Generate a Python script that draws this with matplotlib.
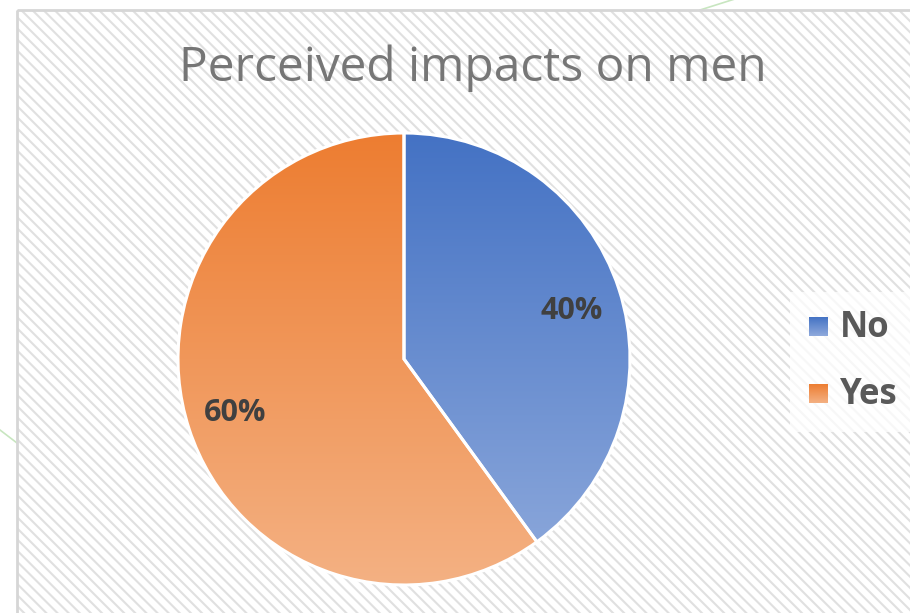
import numpy as np
import matplotlib
matplotlib.use("Agg")
import matplotlib.pyplot as plt
from matplotlib.patches import Rectangle
from matplotlib.colors import LinearSegmentedColormap

# data
labels = ["No", "Yes"]
values = [40, 60]
pct_labels = ["40%", "60%"]
top_colors = ["#4472C4", "#ED7D31"]
bottom_colors = ["#8FAADC", "#F4B183"]

plt.rcParams["font.family"] = ["Open Sans", "DejaVu Sans"]
plt.rcParams["hatch.linewidth"] = 1.5

W, H = 910, 613
fig = plt.figure(figsize=(W / 100, H / 100), dpi=100)
fig.patch.set_facecolor("white")

# background panel in pixel coords (y down)
bg = fig.add_axes([0, 0, 1, 1])
bg.set_xlim(0, W)
bg.set_ylim(H, 0)
bg.axis("off")
bg.set_zorder(0)
bg.add_patch(Rectangle((17, 10), 920, 620, facecolor="white", edgecolor="#E0E0E0",
                       hatch="\\\\\\", linewidth=0, zorder=1))
bg.add_patch(Rectangle((17, 10), 920, 620, facecolor="none", edgecolor="#D6D6D6",
                       linewidth=2, zorder=2))
# faint green decoration outside the panel
bg.plot([700, 738], [10, -2], color="#C8E6C0", lw=1.2, zorder=0)
bg.plot([0, 17], [430, 443], color="#C8E6C0", lw=1.2, zorder=0)

# title
bg.text(473, 68, "Perceived impacts on men", ha="center", va="center",
        fontsize=34.5, color="#767676", zorder=3)

# pie axes: center (404, 359), radius 226 px
cx, cy, r = 404, 359, 226
pad = 4
ax = fig.add_axes([(cx - r - pad) / W, (H - cy - r - pad) / H,
                   2 * (r + pad) / W, 2 * (r + pad) / H])
ax.set_zorder(1)

wedges, _ = ax.pie(values, startangle=90, counterclock=False, radius=1,
                   colors=top_colors,
                   wedgeprops=dict(edgecolor="white", linewidth=2.2))

grad = np.linspace(0, 1, 256).reshape(-1, 1)
for w, c0, c1 in zip(wedges, top_colors, bottom_colors):
    cmap = LinearSegmentedColormap.from_list("g", [c0, c1])
    im = ax.imshow(grad, cmap=cmap, extent=[-1, 1, -1, 1], origin="upper",
                   aspect="auto", zorder=1.5)
    im.set_clip_path(w)
    w.set_facecolor("none")
    w.set_zorder(2)

ax.set_xlim(-1 - pad / r, 1 + pad / r)
ax.set_ylim(-1 - pad / r, 1 + pad / r)
ax.set_aspect("equal")
ax.axis("off")

# overlay for labels and legend
lab = fig.add_axes([0, 0, 1, 1], facecolor="none")
lab.set_zorder(2)
lab.axis("off")

label_pos = [(572, 311), (235, 413)]
for txt, (px, py) in zip(pct_labels, label_pos):
    lab.text(px, py, txt, ha="center", va="center", fontsize=22,
             fontweight="bold", color="#404040")

# legend
lab.add_patch(Rectangle((790, 292), 130, 140, facecolor="white", alpha=0.75,
                        edgecolor="none", zorder=1))
leg_y = [327, 394]
for name, c0, c1, y in zip(labels, top_colors, bottom_colors, leg_y):
    cmap = LinearSegmentedColormap.from_list("g", [c0, c1])
    lab.imshow(grad, cmap=cmap, extent=[809, 828, y + 9.5, y - 9.5], aspect="auto",
               zorder=3)
    lab.text(840, y + 1, name, ha="left", va="center", fontsize=25,
             fontweight="bold", color="#595959", zorder=4)
lab.set_xlim(0, W)
lab.set_ylim(H, 0)

fig.savefig("out.png", dpi=100)
